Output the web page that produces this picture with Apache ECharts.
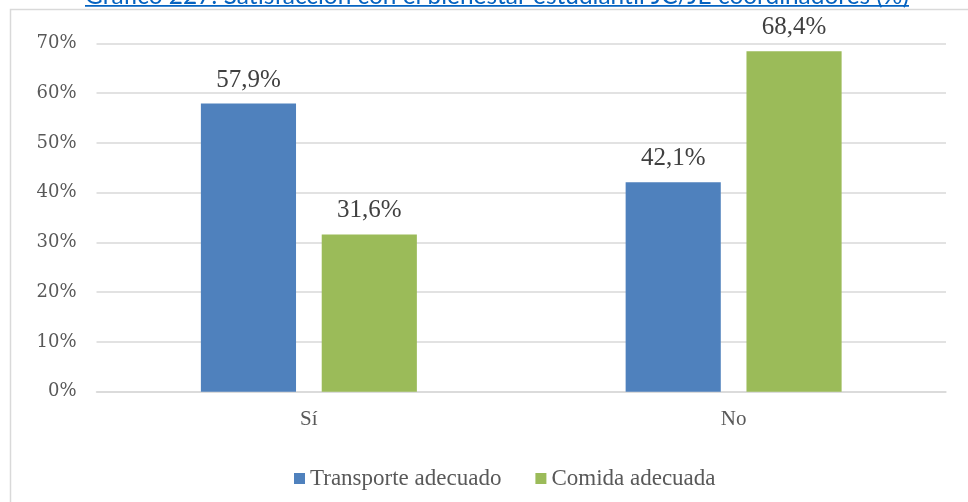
<!DOCTYPE html>
<html>
<head>
<meta charset="utf-8">
<script src="https://cdn.jsdelivr.net/npm/echarts@6/dist/echarts.min.js"></script>
<style>
  html, body { margin: 0; padding: 0; background: #ffffff; }
  #chart { width: 968px; height: 502px; }
</style>
</head>
<body>
<div id="chart"></div>
<script>
// chart data
const categories = ['Sí', 'No'];
const transporte = [57.9, 42.1];
const comida = [31.6, 68.4];
const seriesNames = ['Transporte adecuado', 'Comida adecuada'];
const yTicks = [0, 10, 20, 30, 40, 50, 60, 70];
const titleText = 'Gráfico 227: Satisfacción con el bienestar estudiantil JC/JE coordinadores (%)';

const COLORS = ['#4f81bd', '#9bbb59'];
const SERIF = "'Liberation Serif', serif";

// title is cut at the top in the original, size it so it spans the underline
function fitFontSize(text, family, width) {
  const ctx = document.createElement('canvas').getContext('2d');
  ctx.font = '20px ' + family;
  return 20 * width / ctx.measureText(text).width;
}
const titleFamily = "Lato, 'Liberation Sans', sans-serif";
const titleSize = fitFontSize(titleText, titleFamily, 824);

function pct(v) {
  return v.toFixed(1).replace('.', ',') + '%';
}

function barSeries(name, data, color) {
  return {
    name: name,
    type: 'bar',
    data: data,
    barWidth: '22.4%',
    barGap: '27%',
    itemStyle: { color: color },
    label: {
      show: true,
      position: 'top',
      distance: 11,
      formatter: (p) => pct(p.value),
      fontFamily: SERIF,
      fontSize: 25,
      color: '#404040'
    }
  };
}

const myChart = echarts.init(document.getElementById('chart'));

const option = {
  animation: false,
  backgroundColor: '#ffffff',
  grid: { left: 96.5, right: 22, top: 43.3, bottom: 110.3 },
  legend: {
    data: seriesNames,
    left: 289,
    top: 462,
    itemWidth: 11,
    itemHeight: 11,
    itemGap: 34,
    icon: 'rect',
    textStyle: { fontFamily: SERIF, fontSize: 23, color: '#595959' }
  },
  xAxis: {
    type: 'category',
    data: categories,
    axisLine: { lineStyle: { color: '#d9d9d9', width: 1.5 } },
    axisTick: { show: false },
    axisLabel: { margin: 17, fontFamily: SERIF, fontSize: 21, color: '#595959' }
  },
  yAxis: {
    type: 'value',
    min: yTicks[0],
    max: yTicks[yTicks.length - 1],
    interval: yTicks[1] - yTicks[0],
    axisLine: { show: false },
    axisTick: { show: false },
    splitLine: { lineStyle: { color: '#d9d9d9', width: 1.5 } },
    axisLabel: {
      margin: 20,
      formatter: '{value}%',
      fontFamily: "'DejaVu Serif', serif",
      fontSize: 18,
      color: '#595959'
    }
  },
  series: [
    barSeries(seriesNames[0], transporte, COLORS[0]),
    barSeries(seriesNames[1], comida, COLORS[1])
  ],
  graphic: [
    {
      // chart frame
      type: 'rect',
      silent: true,
      z: -10,
      shape: { x: 10.5, y: 9.5, width: 990, height: 540 },
      style: { fill: 'none', stroke: '#d9d9d9', lineWidth: 1.5 }
    },
    {
      type: 'text',
      silent: true,
      x: 497,
      y: -4,
      style: {
        text: titleText,
        fontFamily: titleFamily,
        fontSize: titleSize,
        fill: '#0563c1',
        align: 'center',
        verticalAlign: 'middle'
      }
    },
    {
      // underline of the title
      type: 'rect',
      silent: true,
      shape: { x: 85, y: 5, width: 824, height: 1.7 },
      style: { fill: '#0563c1' }
    }
  ]
};

myChart.setOption(option);
</script>
</body>
</html>
